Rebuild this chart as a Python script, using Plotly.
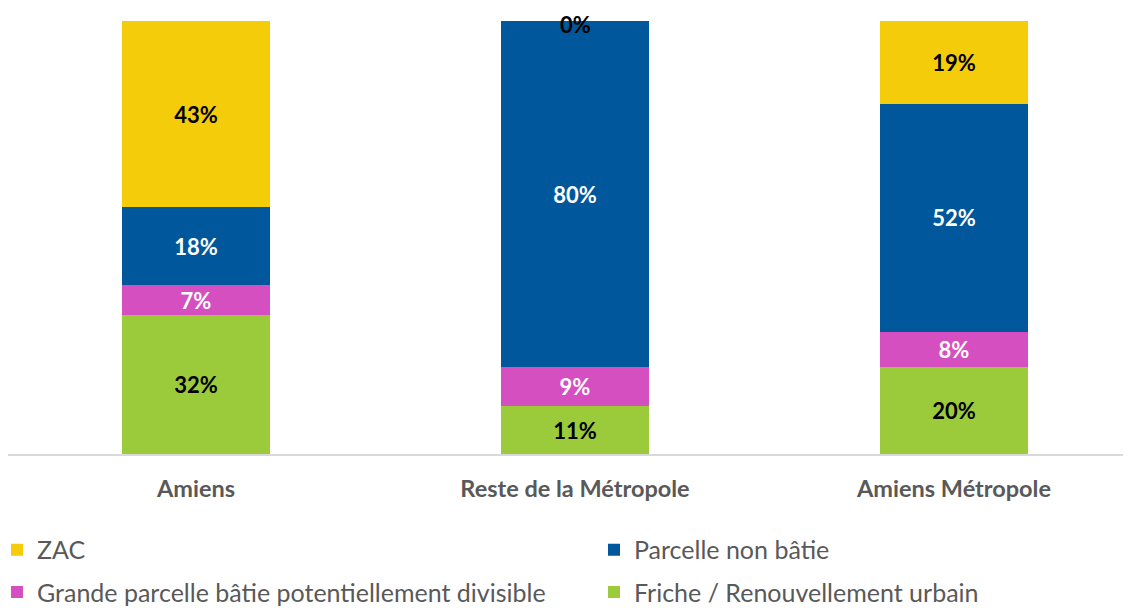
import plotly.graph_objects as go

categories = ["Amiens", "Reste de la Métropole", "Amiens Métropole"]
friche = [32, 11, 20]
grande = [7, 9, 8]
parcelle = [18, 80, 52]
zac = [43, 0, 19]

series = [
    ("Friche / Renouvellement urbain", friche, "#9BCB3B", "#000000", "legend4"),
    ("Grande parcelle bâtie potentiellement divisible", grande, "#D64FC0", "#FFFFFF", "legend3"),
    ("Parcelle non bâtie", parcelle, "#00579B", "#FFFFFF", "legend2"),
    ("ZAC", zac, "#F5CC0A", "#000000", "legend"),
]

FONT = "Lato"
LABEL_SIZE = 22
fig = go.Figure()
for name, vals, color, tcolor, leg in series:
    fig.add_trace(go.Bar(
        x=categories, y=vals, name=name, marker=dict(color=color, line=dict(width=0)),
        text=[f"{v}%" for v in vals], texttemplate="%{text}",
        textposition="inside", insidetextanchor="middle", textangle=0,
        constraintext="none",
        textfont=dict(family=FONT, size=LABEL_SIZE, color=tcolor, weight="bold"),
        width=0.393, legend=leg, showlegend=True,
    ))

# 0% label for the empty ZAC segment of "Reste de la Métropole"
for i, v in enumerate(zac):
    if v == 0:
        fig.add_annotation(x=categories[i], y=100, text=f"{v}%", showarrow=False,
                           yanchor="middle", yshift=-3,
                           font=dict(family=FONT, size=LABEL_SIZE, color="#000000", weight="bold"))

legfont = dict(family=FONT, size=25, color="#595959")
def leg(x, y):
    return dict(orientation="h", x=x, xanchor="left", y=y, yanchor="middle",
                font=legfont, itemwidth=30, bgcolor="rgba(0,0,0,0)")

fig.update_layout(
    width=1123, height=600,
    margin=dict(l=0, r=0, t=13, b=154, autoexpand=False),
    barmode="stack", barnorm="percent",
    plot_bgcolor="white", paper_bgcolor="white",
    font=dict(family=FONT, color="#595959"),
    xaxis=dict(range=[-0.496, 2.467], showline=True, linecolor="#D9D9D9", linewidth=2,
               ticks="", tickfont=dict(family=FONT, size=23.5, color="#595959", weight="bold"),
               ticklabelstandoff=13, automargin=False),
    yaxis=dict(range=[0, 100], visible=False, showgrid=False, automargin=False),
    legend=leg(-0.0098, -0.2217),
    legend2=leg(0.5218, -0.2217),
    legend3=leg(-0.0098, -0.3195),
    legend4=leg(0.5218, -0.3195),
)

fig.write_html("out.html")
